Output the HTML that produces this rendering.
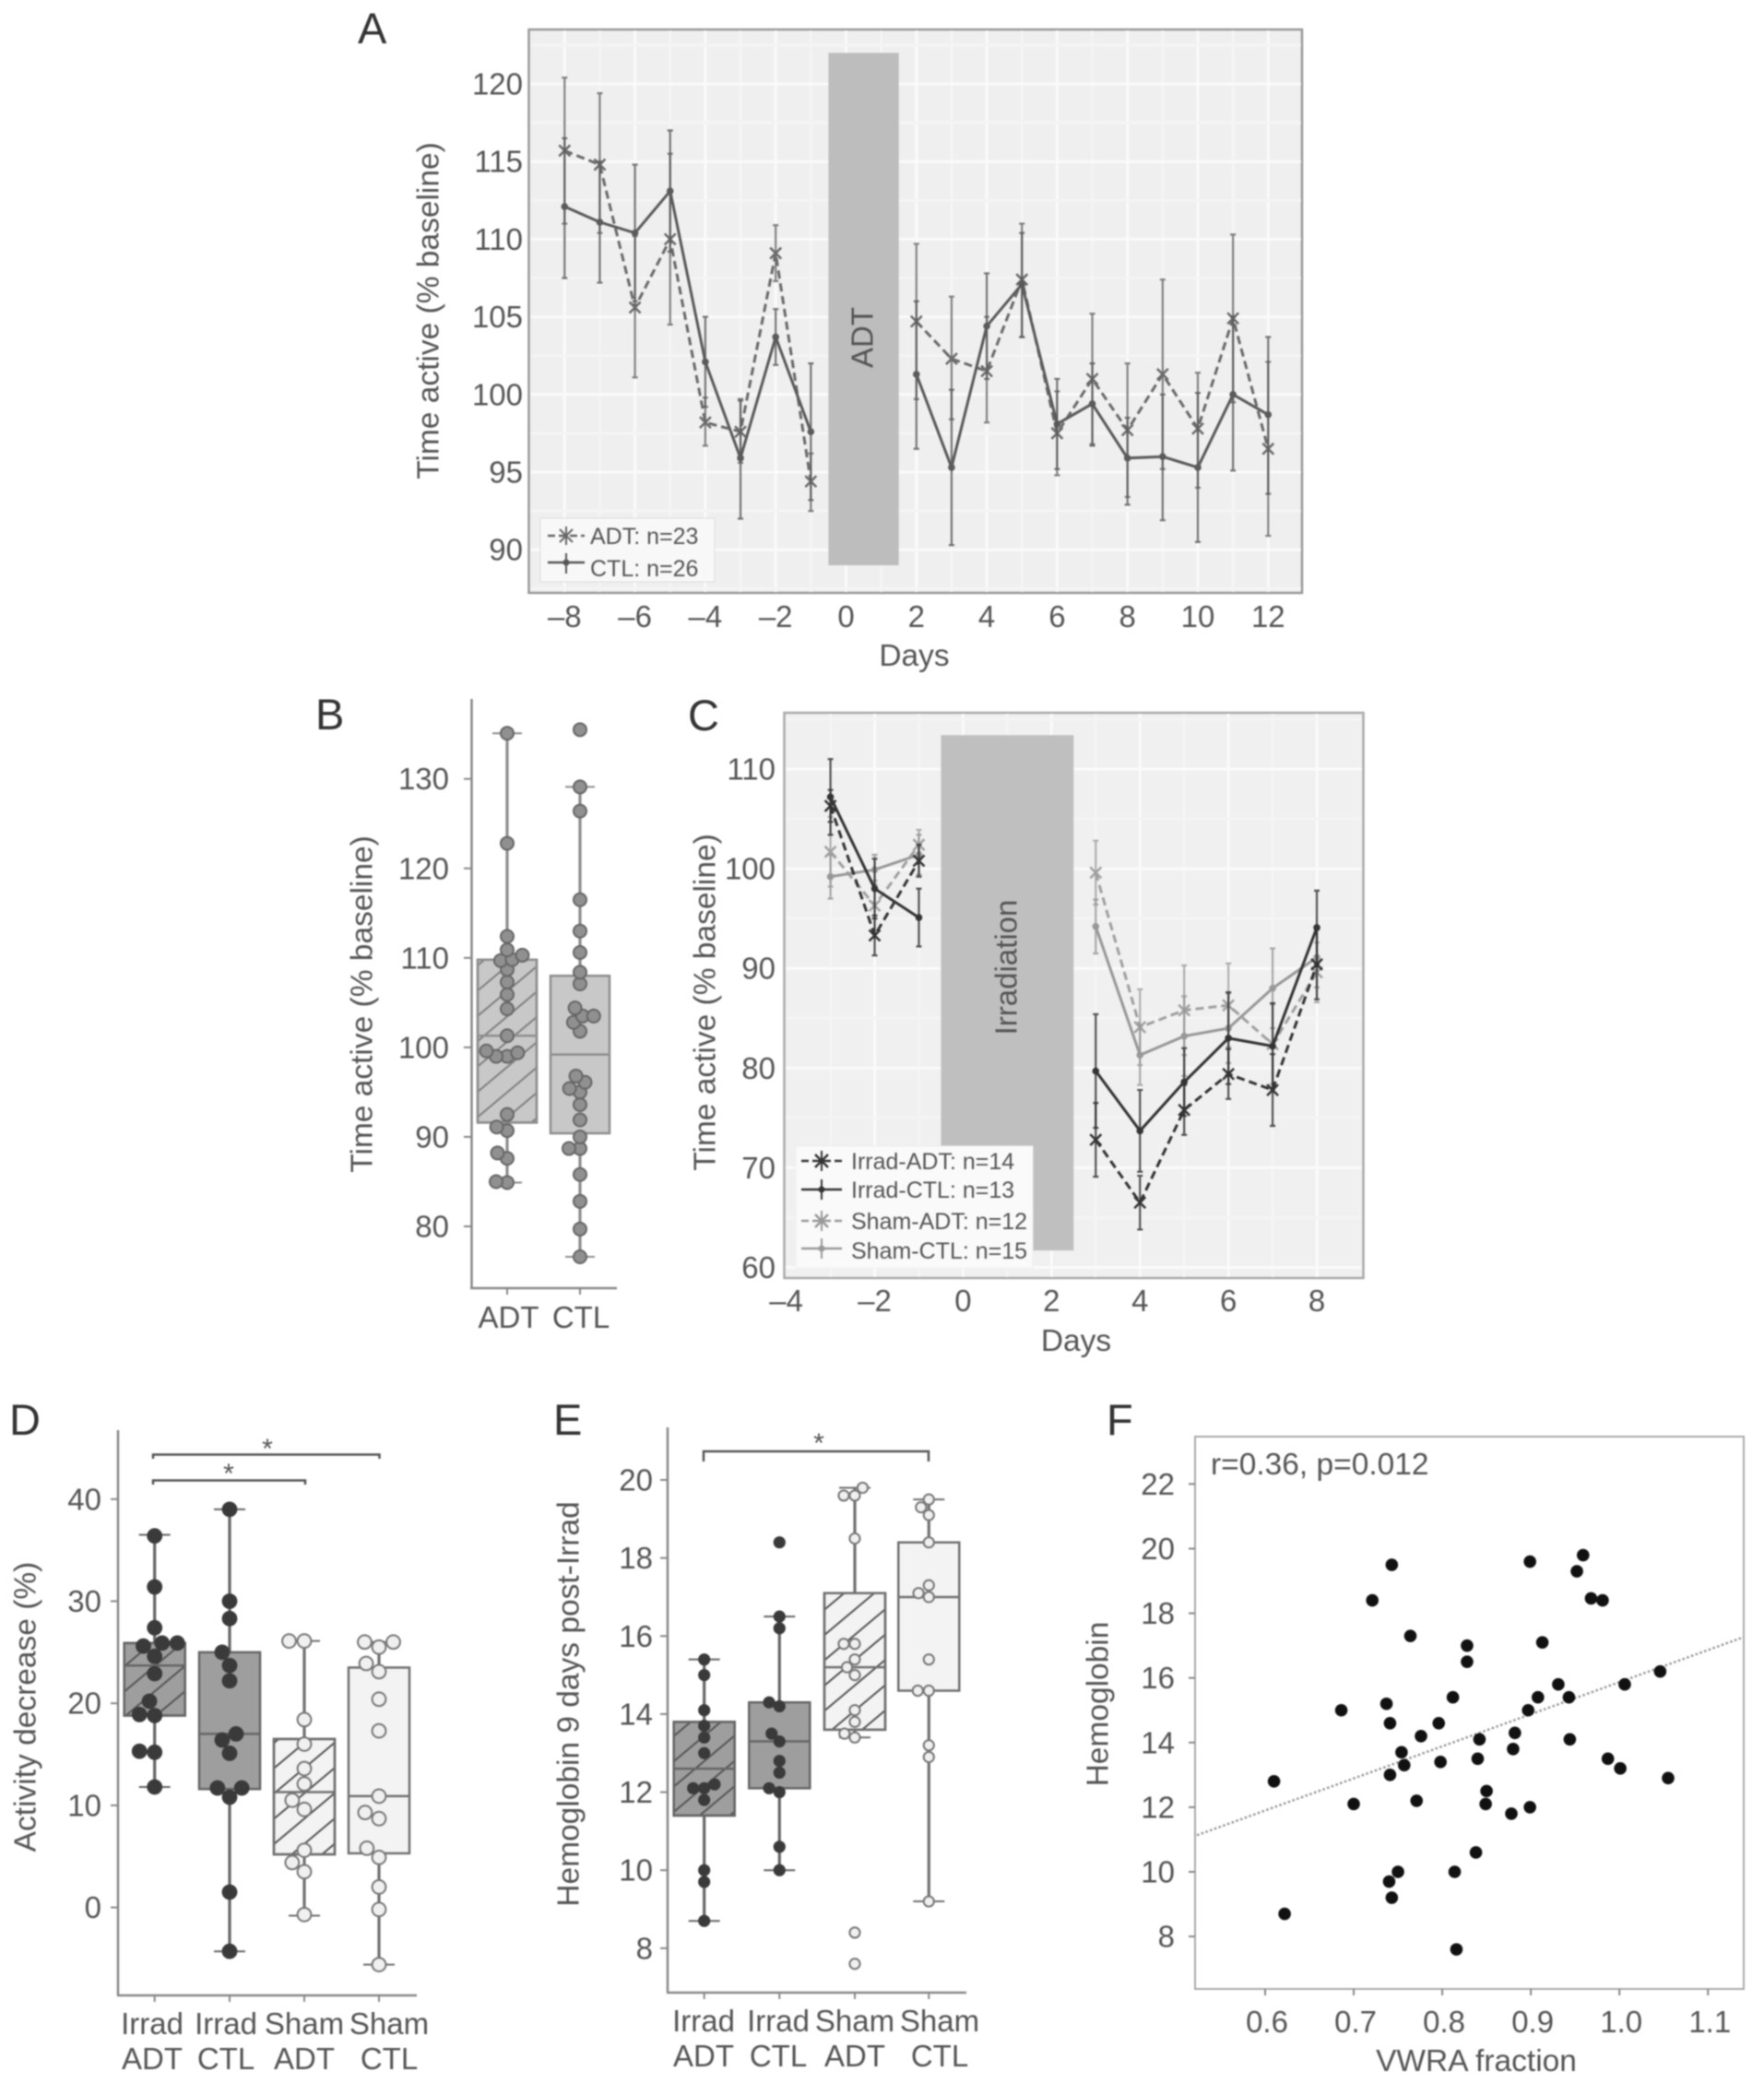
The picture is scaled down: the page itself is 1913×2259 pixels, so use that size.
<!DOCTYPE html>
<html lang="en">
<head>
<meta charset="utf-8">
<title>Activity and hemoglobin panels</title>
<style>
html,body{margin:0;padding:0;background:#fff;width:1913px;height:2259px;overflow:hidden}
svg{display:block;filter:blur(0.8px)}
text{font-family:"Liberation Sans",sans-serif;fill:#555}
.tick{font-size:33px}
.title{font-size:33.5px}
.letter{font-size:47px;fill:#333}
.leg{font-size:25px}
</style>
</head>
<body>
<svg id="fig" xmlns="http://www.w3.org/2000/svg" width="1913" height="2259" viewBox="0 0 1913 2259">
<defs>
<pattern id="hatch-light" width="10" height="21" patternUnits="userSpaceOnUse" patternTransform="rotate(-40)"><line x1="0" y1="1" x2="10" y2="1" stroke="#808080" stroke-width="2"/></pattern>
<pattern id="hatch-dark" width="10" height="21" patternUnits="userSpaceOnUse" patternTransform="rotate(-40)"><line x1="0" y1="1" x2="10" y2="1" stroke="#555" stroke-width="2"/></pattern>
</defs>
<rect width="1913" height="2259" fill="#fff"/>

<g id="panel-a">
<text class="letter" x="388" y="47">A</text>
<rect x="573.5" y="32" width="838.5" height="611" fill="#efefef" stroke="#999" stroke-width="2.5"/>
<g id="a-grid"></g>
<g id="a-marks"></g>
<text class="title" x="465" y="337" text-anchor="middle" dominant-baseline="central" transform="rotate(-90 465 337)">Time active (% baseline)</text>
<text class="title" x="991.5" y="722" text-anchor="middle">Days</text>
<text x="935" y="366" font-size="33" text-anchor="middle" dominant-baseline="central" transform="rotate(-90 935 366)">ADT</text>
<g>
<rect x="586" y="562" width="189" height="69" fill="#f8f8f8" stroke="#ddd"/>
<g>
<line x1="594" y1="581" x2="634" y2="581" stroke="#666" stroke-width="2.5" stroke-dasharray="8 4"/>
<line x1="614" y1="571" x2="614" y2="591" stroke="#666" stroke-width="2"/>
<path d="M607 574L621 588M621 574L607 588" stroke="#666" stroke-width="2" fill="none"/>
<text class="leg" x="640" y="590">ADT: n=23</text>
</g>
<g>
<line x1="594" y1="610" x2="634" y2="610" stroke="#555" stroke-width="2.5"/>
<line x1="614" y1="600" x2="614" y2="622" stroke="#555" stroke-width="2"/>
<circle cx="614" cy="610" r="3.5" fill="#555"/>
<text class="leg" x="640" y="625">CTL: n=26</text>
</g>
</g>
</g>

<g id="panel-b">
<text class="letter" x="342" y="791">B</text>
<g id="b-marks"></g>
<line x1="511.5" y1="758" x2="511.5" y2="1397" stroke="#888" stroke-width="2.5"/>
<line x1="510" y1="1397" x2="669" y2="1397" stroke="#888" stroke-width="2.5"/>
<text class="title" x="393" y="1089" text-anchor="middle" dominant-baseline="central" transform="rotate(-90 393 1089)">Time active (% baseline)</text>
</g>

<g id="panel-c">
<text class="letter" x="746" y="792">C</text>
<rect x="850.5" y="773" width="628" height="613" fill="#f0f0f0" stroke="#aaa" stroke-width="2.5"/>
<g id="c-grid"></g>
<g id="c-marks"></g>
<text class="title" x="765" y="1087" text-anchor="middle" dominant-baseline="central" transform="rotate(-90 765 1087)">Time active (% baseline)</text>
<text class="title" x="1167" y="1465" text-anchor="middle">Days</text>
<text x="1091" y="1049" font-size="33" text-anchor="middle" dominant-baseline="central" transform="rotate(-90 1091 1049)">Irradiation</text>
<g>
<rect x="863" y="1243" width="257" height="132" fill="#fafafa" stroke="#eee"/>
<g>
<line x1="869" y1="1259" x2="913" y2="1259" stroke="#333" stroke-width="2.5" stroke-dasharray="8 4"/>
<line x1="891" y1="1248" x2="891" y2="1270" stroke="#333" stroke-width="2"/>
<path d="M884 1252L898 1266M898 1252L884 1266" stroke="#333" stroke-width="2.5" fill="none"/>
<text class="leg" x="923" y="1268">Irrad-ADT: n=14</text>
</g>
<g>
<line x1="869" y1="1290" x2="913" y2="1290" stroke="#333" stroke-width="2.5"/>
<line x1="891" y1="1279" x2="891" y2="1301" stroke="#333" stroke-width="2"/>
<circle cx="891" cy="1290" r="3.5" fill="#333"/>
<text class="leg" x="923" y="1299">Irrad-CTL: n=13</text>
</g>
<g>
<line x1="869" y1="1324" x2="913" y2="1324" stroke="#999" stroke-width="2.5" stroke-dasharray="8 4"/>
<line x1="891" y1="1313" x2="891" y2="1335" stroke="#999" stroke-width="2"/>
<path d="M884 1317L898 1331M898 1317L884 1331" stroke="#999" stroke-width="2.5" fill="none"/>
<text class="leg" x="923" y="1333">Sham-ADT: n=12</text>
</g>
<g>
<line x1="869" y1="1354" x2="913" y2="1354" stroke="#999" stroke-width="2.5"/>
<line x1="891" y1="1343" x2="891" y2="1365" stroke="#999" stroke-width="2"/>
<circle cx="891" cy="1354" r="3.5" fill="#999"/>
<text class="leg" x="923" y="1365">Sham-CTL: n=15</text>
</g>
</g>
</g>

<g id="panel-d">
<text class="letter" x="10" y="1556">D</text>
<g id="d-marks"></g>
<line x1="128" y1="1551" x2="128" y2="2164" stroke="#888" stroke-width="2.5"/>
<line x1="127" y1="2164" x2="452" y2="2164" stroke="#888" stroke-width="2.5"/>
<text class="title" x="28" y="1851" text-anchor="middle" dominant-baseline="central" transform="rotate(-90 28 1851)">Activity decrease (%)</text>
<g>
<path d="M166 1582V1577.5H411.5V1582" fill="none" stroke="#555" stroke-width="2.5"/>
<text x="290" y="1581" font-size="30" text-anchor="middle" fill="#777">*</text>
</g>
<g>
<path d="M166 1610V1605.5H331V1610" fill="none" stroke="#555" stroke-width="2.5"/>
<text x="248" y="1608" font-size="30" text-anchor="middle" fill="#777">*</text>
</g>
</g>

<g id="panel-e">
<text class="letter" x="600" y="1556">E</text>
<g id="e-marks"></g>
<line x1="724" y1="1548" x2="724" y2="2161" stroke="#888" stroke-width="2.5"/>
<line x1="723" y1="2161" x2="1048" y2="2161" stroke="#888" stroke-width="2.5"/>
<text class="title" x="617" y="1848" text-anchor="middle" dominant-baseline="central" transform="rotate(-90 617 1848)">Hemoglobin 9 days post-Irrad</text>
<g>
<path d="M763 1585V1574H1007V1585" fill="none" stroke="#555" stroke-width="2.5"/>
<text x="888" y="1575" font-size="30" text-anchor="middle" fill="#777">*</text>
</g>
</g>

<g id="panel-f">
<text class="letter" x="1200" y="1556">F</text>
<rect x="1296" y="1558" width="595" height="599" fill="#fff" stroke="#aaa" stroke-width="2"/>
<g id="f-marks"></g>
<text x="1313" y="1599" font-size="33.5">r=0.36, p=0.012</text>
<text class="title" x="1191" y="1848" text-anchor="middle" dominant-baseline="central" transform="rotate(-90 1191 1848)">Hemoglobin</text>
<text class="title" x="1601" y="2246" text-anchor="middle">VWRA fraction</text>
</g>
</svg>

<script>
// ---------- Panel A data ----------
const aDays = [-8,-7,-6,-5,-4,-3,-2,-1,2,3,4,5,6,7,8,9,10,11,12];
const aAdt = [115.7,114.8,105.6,110,98.2,97.6,109.1,94.4,104.7,102.3,101.5,107.4,97.5,101,97.7,101.3,97.8,104.9,96.5];
const aAdtLow = [111,110.4,101.1,104.5,96.7,95.6,107.3,92.5,99.7,98.4,98.2,103.7,94.8,96.8,93.4,95.2,94,99.5,90.9];
const aAdtHigh = [120.4,119.4,110.2,115.5,99.8,99.6,110.9,96.2,109.7,106.3,105,111,100.2,105.2,102,107.4,101.4,110.3,102.1];
const aCtl = [112.1,111.1,110.4,113.1,102.1,95.9,103.7,97.6,101.3,95.3,104.4,107.1,98.1,99.4,95.9,96,95.3,100,98.7];
const aCtlLow = [107.5,107.2,106,109.2,99.2,92,101.9,93.2,96.5,90.3,101,103.7,95.2,96.7,92.9,91.9,90.5,95.1,93.6];
const aCtlHigh = [116.5,115,114.8,117,105,99.7,105.5,102,106,100.3,107.8,110.4,101,102,98.5,100,100.1,105,103.7];
const aSegments = [[-8,-1],[2,12]];
const aPeriod = [-0.5,1.5,89,122];
const aXTicks = [-8,-6,-4,-2,0,2,4,6,8,10,12];
const aYTicks = [90,95,100,105,110,115,120];

// ---------- Panel B data ----------
const bCats = ['ADT','CTL'];
const bAdt = [135.1,122.8,112.4,110.3,110.9,109.7,109.8,108.7,107.3,105.9,104.3,101.3,99.6,99,99,99.4,92.5,91.1,90.7,88.2,87.6,85,84.9];
const bCtl = [135.5,129.1,126.4,116.5,113,110.6,108.4,107.1,104.4,103.5,103.5,102.8,101.8,96.8,96.1,95.4,95,93.6,91.9,90,88.7,88.7,85.8,82.8,79.7,76.6];
const bBoxes = [[84.9,91.6,101.3,109.8,135.1],[76.6,90.4,99.2,108,129.1]];
const bYTicks = [80,90,100,110,120,130];

// ---------- Panel C data ----------
const cDays = [-3,-2,-1,3,4,5,6,7,8];
const cIrradAdt = [106.3,93.3,100.8,72.8,66.5,75.8,79.4,77.8,90.4];
const cIrradAdtErr = [1.6,2,1.6,3.7,2.7,2.5,2.5,3.6,3.5];
const cIrradCtl = [107.2,98,95.1,79.7,73.7,78.6,83,82.2,94.1];
const cIrradCtlErr = [3.8,3,2.9,5.7,4.1,3.4,4.6,4.3,3.7];
const cShamAdt = [101.7,96.3,102.4,99.6,84.1,85.8,86.3,82.4,89.6];
const cShamAdtErr = [3.5,2.5,1.5,3.2,3.8,4.5,4.2,4,3];
const cShamCtl = [99.2,99.9,101.4,94.2,81.3,83.2,84,88,91.1];
const cShamCtlErr = [2.2,1.5,2,2.7,3,4,3.5,4,3];
const cSegments = [[-3,-1],[3,8]];
const cPeriod = [-0.5,2.5,61.7,113.4];
const cXTicks = [-4,-2,0,2,4,6,8];
const cYTicks = [60,70,80,90,100,110];

// ---------- Panel D data ----------
const dIrradAdt = [36.4,31.4,27.4,25.9,25.9,25.6,24.6,22.9,20.2,18.9,18.8,15.3,15.2,11.8];
const dIrradCtl = [39,30,28.3,25,23.7,22.2,17,16.4,15.1,11.7,11.7,10.8,1.5,-4.3];
const dShamAdt = [26.1,26.1,18.4,16,13.6,12.1,10.5,9.6,5.6,4.4,3.5,-0.7];
const dShamCtl = [26,26,25.5,23.9,23.1,20.4,17.3,10.9,9.3,8.7,5.8,4.9,2,-0.2,-5.6];
const dBoxes = [[11.8,18.8,23.7,25.9,36.5],[-4.3,11.6,17,25,39],[-0.8,5.2,11.3,16.5,26.1],[-5.6,5.3,10.9,23.5,26]];
const dYTicks = [0,10,20,30,40];

// ---------- Panel E data ----------
const eIrradAdt = [15.4,15,14.1,13.7,13.4,13,12.2,12.1,12.1,11.8,10,9.7,8.7];
const eIrradCtl = [18.4,16.5,16.2,14.3,14.2,13.5,13.3,12.8,12.5,12.1,12,10.6,10];
const eShamAdt = [19.8,19.6,19.6,18.5,15.8,15.8,15.4,15.2,15,14.1,13.8,13.5,13.4,8.4,7.6];
const eShamCtl = [19.5,19.3,19.1,18.4,17.3,17.1,17,15.4,14.6,14.6,13.2,12.9,9.2];
const eBoxes = [[8.7,11.4,12.6,13.8,15.4],[10,12.1,13.3,14.3,16.5],[13.4,13.6,15.2,17.1,19.8],[9.2,14.6,17,18.4,19.5]];
const eYTicks = [8,10,12,14,16,18,20];

// ---------- Panel F data ----------
const fX = [.61,.622,.686,.7,.721,.737,.743,.741,.741,.74,.743,.75,.754,.757,.764,.771,.776,.796,.798,.812,.814,.816,.828,.828,.838,.84,.842,.849,.85,.878,.88,.882,.897,.899,.899,.908,.913,.931,.943,.944,.952,.959,.968,.981,.987,1.001,1.006,1.046,1.055];
const fY = [12.8,8.7,15,12.1,18.4,15.2,19.5,14.6,13,9.7,9.2,10,13.7,13.3,17.3,12.2,14.2,14.6,13.4,15.4,10,7.6,17,16.5,10.6,13.5,14.1,12.1,12.5,11.8,13.8,14.3,15,12,19.6,15.4,17.1,15.8,15.4,14.1,19.3,19.8,18.46,18.4,13.5,13.2,15.8,16.2,12.9];
const fFit = [5.94,9.93];
const fXRange = [.523,1.14];
const fXTicks = [.6,.7,.8,.9,1,1.1];
const fYTicks = [8,10,12,14,16,18,20,22];

// ---------- Axis functions ----------
const xA = d => 612.3 + (d + 8) * 38.15;
const yA = v => 91 + (120 - v) * 16.84;
const xC = d => 900.6 + (d + 3) * 47.95;
const yC = v => 834 + (110 - v) * 10.81;
const yB = v => 844.7 + (130 - v) * 9.706;
const yD = v => 1625.8 + (40 - v) * 11.07;
const yE = v => 1605 + (20 - v) * 42.32;
const xF = v => 1372 + (v - .6) * 960.5;
const yF = v => 1609.4 + (22 - v) * 35.05;

const NS = 'http://www.w3.org/2000/svg';
function mk(parent, tag, attrs, text) {
  const el = document.createElementNS(NS, tag);
  for (const k in attrs) el.setAttribute(k, attrs[k]);
  if (text !== undefined) el.textContent = text;
  parent.appendChild(el);
  return el;
}
const $ = id => document.getElementById(id);
const minus = v => v < 0 ? '\u2013' + Math.abs(v) : String(v);

function yTickLabel(parent, y, label, right) {
  const t = mk(parent, 'text', {class:'tick', x:right, y:y + 11.5, 'text-anchor':'end'}, label);
  
  
}
function xTickLabel(parent, x, label, base) {
  const t = mk(parent, 'text', {class:'tick', x:x, y:base, 'text-anchor':'middle'}, label);
  
  
}
function tickMark(parent, x1, y1, x2, y2) {
  const l = mk(parent, 'line', {x1:x1, y1:y1, x2:x2, y2:y2, stroke:'#888', 'stroke-width':2});
  
  
}
function gridLine(parent, x1, y1, x2, y2, major) {
  const l = mk(parent, 'line', {x1:x1, y1:y1, x2:x2, y2:y2, stroke: major ? '#fafafa' : '#f4f4f4', 'stroke-width':3});
  
  
}

function drawSeries(parent, days, vals, lows, highs, segs, xf, yf, color, dashed, marker, name) {
  days.forEach((d, i) => {
    const x = xf(d), lo = yf(lows[i]), hi = yf(highs[i]);
    const bar = mk(parent, 'path', {
      d:`M${x} ${lo}V${hi}M${x-3} ${lo}H${x+3}M${x-3} ${hi}H${x+3}`,
      fill:'none', stroke:color, 'stroke-width':2.2, 'stroke-opacity':.85
    });
    
    
  });
  segs.forEach(seg => {
    const pts = days.map((d, i) => [d, vals[i]]).filter(p => p[0] >= seg[0] && p[0] <= seg[1]);
    const line = mk(parent, 'polyline', {
      points: pts.map(p => xf(p[0]).toFixed(1) + ',' + yf(p[1]).toFixed(1)).join(' '),
      fill:'none', stroke:color, 'stroke-width':3,
      'stroke-dasharray': dashed ? '9 5' : 'none'
    });
    
    
  });
  days.forEach((d, i) => {
    const x = xf(d), y = yf(vals[i]);
    if (marker === 'x') {
      const m = mk(parent, 'path', {
        d:`M${x-6} ${y-6}L${x+6} ${y+6}M${x+6} ${y-6}L${x-6} ${y+6}`,
        fill:'none', stroke:color, 'stroke-width':2.5
      });
      
      
    } else {
      const m = mk(parent, 'circle', {cx:x, cy:y, r:3.8, fill:color});
      
      
    }
  });
}

function swarm(values, yf, cx, d) {
  const order = values.map(v => yf(v)).sort((a, b) => b - a);
  const placed = [];
  order.forEach(y => {
    const near = placed.filter(p => Math.abs(p.y - y) < d);
    const cands = [0];
    near.forEach(p => {
      const dx = Math.sqrt(d * d - (p.y - y) * (p.y - y));
      cands.push(p.x - dx, p.x + dx);
    });
    const ok = cands.filter(c => near.every(p => Math.hypot(p.x - c, p.y - y) >= d - 0.01));
    ok.sort((a, b) => (Math.abs(a) - Math.abs(b)) || (a - b));
    placed.push({x: ok[0], y: y});
  });
  return placed.map(p => ({x: cx + p.x, y: p.y}));
}

function boxPlot(parent, stats, yf, cx, halfW, capW, fill, stroke, hatch, name) {
  const wh = mk(parent, 'line', {x1:cx, x2:cx, y1:yf(stats[0]), y2:yf(stats[4]), stroke:stroke, 'stroke-width':3.2});
  
  
  [stats[0], stats[4]].forEach(v => {
    const cap = mk(parent, 'line', {x1:cx - capW, x2:cx + capW, y1:yf(v), y2:yf(v), stroke:stroke, 'stroke-width':2});
    
    
  });
  const top = yf(stats[3]), bot = yf(stats[1]);
  const box = mk(parent, 'rect', {x:cx - halfW, y:top, width:halfW * 2, height:bot - top, fill:fill, stroke:stroke, 'stroke-width':2.5});
  
  
  if (hatch) {
    const h = mk(parent, 'rect', {x:cx - halfW, y:top, width:halfW * 2, height:bot - top, fill:'url(#' + hatch + ')', stroke:stroke, 'stroke-width':2.5});
    
    
  }
  const med = mk(parent, 'line', {x1:cx - halfW, x2:cx + halfW, y1:yf(stats[2]), y2:yf(stats[2]), stroke:stroke, 'stroke-width':2.5});
  
  
}

function dots(parent, values, yf, cx, spacing, r, fill, stroke, name) {
  swarm(values, yf, cx, spacing).forEach(p => {
    const c = mk(parent, 'circle', {cx:p.x, cy:p.y, r:r, fill:fill, stroke:stroke, 'stroke-width':2});
    
    
  });
}

// ---------- Panel A ----------
(function () {
  const g = $('a-grid'), m = $('a-marks');
  for (let d = -9; d <= 13; d++) {
    const x = xA(d);
    if (x > 577 && x < 1410) gridLine(g, x, 33, x, 642, d % 2 === 0);
  }
  for (let v = 87.5; v <= 122.5; v += 2.5) {
    const y = yA(v);
    if (y > 34 && y < 641) gridLine(g, 575, y, 1411, y, v % 5 === 0);
  }
  const r = mk(m, 'rect', {x:xA(aPeriod[0]), y:yA(aPeriod[3]), width:xA(aPeriod[1]) - xA(aPeriod[0]), height:yA(aPeriod[2]) - yA(aPeriod[3]), fill:'#bdbdbd'});
  
  
  drawSeries(m, aDays, aAdt, aAdtLow, aAdtHigh, aSegments, xA, yA, '#6a6a6a', true, 'x', 'adt-series');
  drawSeries(m, aDays, aCtl, aCtlLow, aCtlHigh, aSegments, xA, yA, '#5a5a5a', false, 'o', 'ctl-series');
  aXTicks.forEach(d => xTickLabel(m, xA(d), minus(d), 680));
  aYTicks.forEach(v => yTickLabel(m, yA(v), String(v), 567));
})();

// ---------- Panel B ----------
(function () {
  const m = $('b-marks');
  bYTicks.forEach(v => { tickMark(m, 503, yB(v), 511, yB(v)); yTickLabel(m, yB(v), String(v), 487); });
  const cx = [550, 629];
  boxPlot(m, bBoxes[0], yB, cx[0], 32, 16, '#c8c8c8', '#8e8e8e', 'hatch-light', 'adt');
  boxPlot(m, bBoxes[1], yB, cx[1], 32, 16, '#c8c8c8', '#8e8e8e', null, 'ctl');
  dots(m, bAdt, yB, cx[0], 12, 7, '#909090', '#666', 'adt');
  dots(m, bCtl, yB, cx[1], 12, 7, '#909090', '#666', 'ctl');
  bCats.forEach((c, i) => { tickMark(m, cx[i], 1397, cx[i], 1404); xTickLabel(m, cx[i] + (i ? 1 : 1.5), c, 1440); });
})();

// ---------- Panel C ----------
(function () {
  const g = $('c-grid'), m = $('c-marks');
  for (let d = -4; d <= 9; d++) {
    const x = xC(d);
    if (x > 855 && x < 1476) gridLine(g, x, 774, x, 1385, d % 2 === 0);
  }
  for (let v = 60; v <= 115; v += 5) {
    const y = yC(v);
    if (y > 774 && y < 1385) gridLine(g, 852, y, 1477, y, v % 10 === 0);
  }
  const r = mk(m, 'rect', {x:xC(cPeriod[0]), y:yC(cPeriod[3]), width:xC(cPeriod[1]) - xC(cPeriod[0]), height:yC(cPeriod[2]) - yC(cPeriod[3]), fill:'#bfbfbf'});
  
  
  const lo = (a, e) => a.map((v, i) => v - e[i]);
  const hi = (a, e) => a.map((v, i) => v + e[i]);
  drawSeries(m, cDays, cShamAdt, lo(cShamAdt, cShamAdtErr), hi(cShamAdt, cShamAdtErr), cSegments, xC, yC, '#a0a0a0', true, 'x', 'sham-adt-series');
  drawSeries(m, cDays, cShamCtl, lo(cShamCtl, cShamCtlErr), hi(cShamCtl, cShamCtlErr), cSegments, xC, yC, '#989898', false, 'o', 'sham-ctl-series');
  drawSeries(m, cDays, cIrradAdt, lo(cIrradAdt, cIrradAdtErr), hi(cIrradAdt, cIrradAdtErr), cSegments, xC, yC, '#333', true, 'x', 'irrad-adt-series');
  drawSeries(m, cDays, cIrradCtl, lo(cIrradCtl, cIrradCtlErr), hi(cIrradCtl, cIrradCtlErr), cSegments, xC, yC, '#333', false, 'o', 'irrad-ctl-series');
  cXTicks.forEach(d => xTickLabel(m, xC(d), minus(d), 1422));
  cYTicks.forEach(v => yTickLabel(m, yC(v), String(v), 841));
})();

// ---------- Panels D and E ----------
const groupLine1 = ['Irrad','Irrad','Sham','Sham'];
const groupLine2 = ['ADT','CTL','ADT','CTL'];
function groupedPanel(m, sets, boxes, yf, ticks, cx, labelX, axisX, axisY, labelRight, spacing, r, name) {
  const fills = ['#9e9e9e','#9e9e9e','#f3f3f3','#f3f3f3'];
  const strokes = ['#666','#666','#707070','#707070'];
  const hatches = ['hatch-dark',null,'hatch-dark',null];
  const dotFill = ['#3a3a3a','#3a3a3a','#f0f0f0','#f0f0f0'];
  const dotStroke = ['#3a3a3a','#3a3a3a','#777','#777'];
  ticks.forEach(v => { tickMark(m, axisX - 8, yf(v), axisX, yf(v)); yTickLabel(m, yf(v), String(v), labelRight); });
  sets.forEach((vals, i) => {
    boxPlot(m, boxes[i], yf, cx[i], 33, 17, fills[i], strokes[i], hatches[i], name + '-' + groupLine1[i].toLowerCase() + '-' + groupLine2[i].toLowerCase());
    dots(m, vals, yf, cx[i], spacing, r, dotFill[i], dotStroke[i], name + '-' + groupLine1[i].toLowerCase() + '-' + groupLine2[i].toLowerCase());
    tickMark(m, cx[i], axisY, cx[i], axisY + 7);
    xTickLabel(m, labelX[i], groupLine1[i], axisY + 42);
    xTickLabel(m, labelX[i], groupLine2[i], axisY + 80);
  });
}
groupedPanel($('d-marks'), [dIrradAdt, dIrradCtl, dShamAdt, dShamCtl], dBoxes, yD, dYTicks, [167.7,249,330,411], [165,245,330,422], 128, 2164, 110, 16.5, 7.4, 'd');
groupedPanel($('e-marks'), [eIrradAdt, eIrradCtl, eShamAdt, eShamCtl], eBoxes, yE, eYTicks, [763.7,845.3,927,1007.3], [763,844,927,1019], 724, 2161, 708, 12, 5.6, 'e');

// ---------- Panel F ----------
(function () {
  const m = $('f-marks');
  fXTicks.forEach(v => { tickMark(m, xF(v), 2157, xF(v), 2164); xTickLabel(m, xF(v) + 2, v.toFixed(1), 2204); });
  fYTicks.forEach(v => { tickMark(m, 1289, yF(v), 1296, yF(v)); yTickLabel(m, yF(v), String(v), 1274); });
  const fit = mk(m, 'line', {
    x1:xF(fXRange[0]), y1:yF(fFit[0] + fFit[1] * fXRange[0]),
    x2:xF(fXRange[1]), y2:yF(fFit[0] + fFit[1] * fXRange[1]),
    stroke:'#999', 'stroke-width':2.5, 'stroke-dasharray':'2.5 2.5'
  });
  
  
  fX.forEach((v, i) => {
    const c = mk(m, 'circle', {cx:xF(v), cy:yF(fY[i]), r:6.8, fill:'#111'});
    
    
  });
})();
</script>
</body>
</html>
